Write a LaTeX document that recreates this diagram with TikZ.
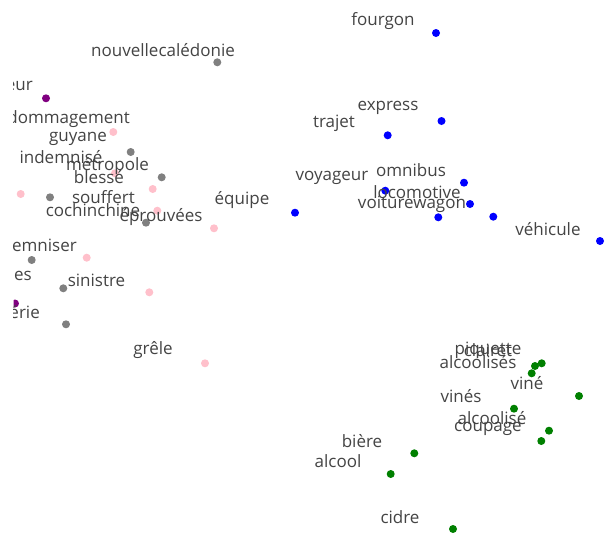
\documentclass[tikz,border=0pt]{standalone}
\usepackage{fontspec}
\setmainfont{Open Sans}
\definecolor{ptblue}{HTML}{0000FF}
\definecolor{ptgreen}{HTML}{008000}
\definecolor{ptgray}{HTML}{808080}
\definecolor{ptpink}{HTML}{FFC0CB}
\definecolor{ptpurple}{HTML}{800080}
\definecolor{txt}{HTML}{444444}
\tikzset{
  dot/.style={circle, inner sep=0pt, minimum size=8pt},
  bdot/.style={dot, fill=ptblue},
  gdot/.style={dot, fill=ptgreen},
  kdot/.style={dot, fill=ptgray},
  pdot/.style={dot, fill=ptpink},
  vdot/.style={dot, fill=ptpurple},
  lbl/.style={text=txt, font=\fontsize{17}{19}\selectfont, inner sep=0pt},
}
\begin{document}
\begin{tikzpicture}[x=1pt,y=-1pt]
\useasboundingbox (0,0) rectangle (606,533);
\fill[white] (0,0) rectangle (606,533);
\begin{scope}
\clip (13.5,0) rectangle (606,533);
% blue cluster
\node[bdot] (b1) at (436,33) {};
\node[bdot] (b2) at (441.5,121) {};
\node[bdot] (b3) at (387.7,135.3) {};
\node[bdot] (b4) at (464,182.7) {};
\node[bdot] (b5) at (385.3,190.7) {};
\node[bdot] (b6) at (470,204) {};
\node[bdot] (b7) at (295,212.7) {};
\node[bdot] (b8) at (438.3,217.3) {};
\node[bdot] (b9) at (493.3,216.7) {};
\node[bdot] (b10) at (600,241) {};
% green cluster
\node[gdot] (g1) at (541.7,363.3) {};
\node[gdot] (g2) at (535,366) {};
\node[gdot] (g3) at (531.7,373.3) {};
\node[gdot] (g4) at (579,396) {};
\node[gdot] (g5) at (514,408.7) {};
\node[gdot] (g6) at (549,430.7) {};
\node[gdot] (g7) at (541.3,441) {};
\node[gdot] (g8) at (414.3,453.3) {};
\node[gdot] (g9) at (390.7,474) {};
\node[gdot] (g10) at (453,529) {};
% gray
\node[kdot] (k1) at (217.3,62.3) {};
\node[kdot] (k2) at (130.7,152) {};
\node[kdot] (k3) at (161.7,177.3) {};
\node[kdot] (k4) at (50,197.3) {};
\node[kdot] (k5) at (146,222.7) {};
\node[kdot] (k6) at (31.7,260) {};
\node[kdot] (k7) at (63.3,288.3) {};
\node[kdot] (k8) at (66,324.3) {};
% pink
\node[pdot] (p1) at (113.3,132) {};
\node[pdot] (p2) at (115,173.3) {};
\node[pdot] (p3) at (152.7,189) {};
\node[pdot] (p4) at (20.7,194) {};
\node[pdot] (p5) at (157.3,210.7) {};
\node[pdot] (p6) at (214,228.3) {};
\node[pdot] (p7) at (86.7,257.7) {};
\node[pdot] (p8) at (149.3,292.3) {};
\node[pdot] (p9) at (205,363.3) {};
% purple
\node[vdot] (v1) at (46,98.3) {};
\node[vdot] (v2) at (15,303.5) {};
% labels
\node[lbl] (l1) at (383,21) {fourgon};
\node[lbl] (l2) at (388,108) {express};
\node[lbl] (l3) at (334,123) {trajet};
\node[lbl] (l4) at (411,170) {omnibus};
\node[lbl] (l5) at (332,178) {voyageur};
\node[lbl] (l6) at (417,192) {locomotive};
\node[lbl] (l7) at (412,204) {voiturewagon};
\node[lbl] (l8) at (548,229) {véhicule};
\node[lbl] (l9) at (242,200) {équipe};
\node[lbl] (l10) at (163,50) {nouvellecalédonie};
\node[lbl, anchor=east] (l11) at (33,86) {eur};
\node[lbl, anchor=east] (l12) at (130,119) {dédommagement};
\node[lbl] (l13) at (78,139) {guyane};
\node[lbl] (l14) at (61,157) {indemnisé};
\node[lbl] (l15) at (107.5,166) {métropole};
\node[lbl] (l16) at (99,177) {blessé};
\node[lbl] (l17) at (103.5,197) {souffert};
\node[lbl] (l18) at (93,210) {cochinchine};
\node[lbl] (l19) at (161,217) {éprouvées};
\node[lbl, anchor=east] (l20) at (77,245) {indemniser};
\node[lbl, anchor=east] (l21) at (32,276) {es};
\node[lbl] (l22) at (96.5,280) {sinistre};
\node[lbl, anchor=east] (l23) at (40,312) {érie};
\node[lbl] (l24) at (153,350) {grêle};
\node[lbl] (l25) at (488,350) {piquette};
\node[lbl] (l26) at (488,350) {clairet};
\node[lbl] (l27) at (478,362) {alcoolisés};
\node[lbl] (l28) at (527,383) {viné};
\node[lbl] (l29) at (461,396) {vinés};
\node[lbl] (l30) at (492,418) {alcoolisé};
\node[lbl] (l31) at (488,429) {coupage};
\node[lbl] (l32) at (362,441) {bière};
\node[lbl] (l33) at (338,461) {alcool};
\node[lbl] (l34) at (400,517) {cidre};
\end{scope}
\end{tikzpicture}
\end{document}
